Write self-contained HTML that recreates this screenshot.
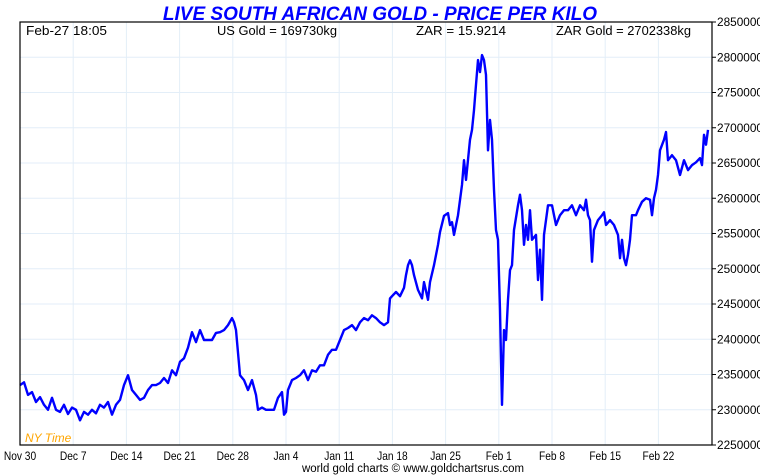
<!DOCTYPE html>
<html><head><meta charset="utf-8"><style>
body{margin:0;background:#fff;width:760px;height:475px;overflow:hidden}
svg{display:block;font-family:"Liberation Sans",sans-serif}
</style></head><body>
<svg id="chart" width="760" height="475" viewBox="0 0 760 475">
<text x="380" y="20" text-anchor="middle" font-size="19" font-weight="bold" font-style="italic" fill="#0000ff">LIVE SOUTH AFRICAN GOLD - PRICE PER KILO</text>
<g id="grid"></g>
<g id="yaxis"></g>
<g id="xaxis"></g>
<path id="line" fill="none" stroke="#0000ff" stroke-width="2.4" stroke-linejoin="round"/>
<rect x="20" y="22" width="692" height="423" fill="none" stroke="#000" stroke-width="1.2"/>
<text x="26" y="35" font-size="13" textLength="81" lengthAdjust="spacingAndGlyphs">Feb-27  18:05</text>
<text x="217" y="35" font-size="13" textLength="120" lengthAdjust="spacingAndGlyphs">US Gold = 169730kg</text>
<text x="416" y="35" font-size="13" textLength="90" lengthAdjust="spacingAndGlyphs">ZAR = 15.9214</text>
<text x="556" y="35" font-size="13" textLength="135" lengthAdjust="spacingAndGlyphs">ZAR Gold = 2702338kg</text>
<text x="25" y="442" font-size="12" font-style="italic" fill="#ffa500">NY Time</text>
<text x="413" y="472" text-anchor="middle" font-size="11.5" textLength="222" lengthAdjust="spacingAndGlyphs">world gold charts © www.goldchartsrus.com</text>
</svg>
<script>
const days=[0,0.53,1.05,1.58,2.11,2.63,3.16,3.68,4.21,4.74,5.26,5.79,6.32,6.84,7.37,7.89,8.42,8.95,9.47,10,10.53,11.05,11.58,12.11,12.63,13.16,13.68,14.21,14.74,15.26,15.79,16.32,16.84,17.37,17.89,18.42,18.95,19.47,20,20.53,21.05,21.58,22.11,22.63,23.16,23.68,24.21,24.74,25.26,25.79,26.32,26.84,27.37,27.89,28.16,28.42,28.95,29.47,30,30.53,31.05,31.32,31.84,32.37,32.89,33.42,33.95,34.47,34.74,35,35.26,35.79,36.32,36.84,37.37,37.89,38.42,38.95,39.47,40,40.53,41.05,41.58,42.11,42.63,43.16,43.68,44.21,44.74,45.26,45.79,46.32,46.84,47.37,47.89,48.42,48.68,48.95,49.47,50,50.53,50.79,51.05,51.32,51.58,51.84,52.37,52.89,53.16,53.68,53.95,54.47,55,55.26,55.79,56.32,56.58,56.84,57.11,57.63,58.16,58.42,58.68,59.21,59.47,59.74,60,60.26,60.53,60.79,61.05,61.32,61.58,61.84,62.11,62.37,62.63,62.89,63.16,63.29,63.42,63.68,63.95,64.21,64.47,64.74,65,65.53,65.79,66.05,66.32,66.58,66.84,67.11,67.37,67.89,68.16,68.42,68.68,68.95,69.47,70,70.53,71.05,71.58,72.11,72.63,73.16,73.68,74.21,74.47,74.74,75,75.26,75.53,76.05,76.58,76.84,77.11,77.63,78.16,78.68,78.95,79.21,79.47,79.74,80,80.26,80.53,81.05,81.32,81.84,82.37,82.89,83.16,83.42,83.68,83.95,84.21,84.74,85,85.26,85.79,86.32,86.84,87.37,87.89,88.42,88.95,89.47,89.74,90,90.26,90.53];
const prices=[2335,2339,2321,2325,2311,2318,2307,2300,2317,2300,2297,2307,2294,2303,2300,2285,2297,2293,2300,2295,2307,2303,2311,2293,2307,2314,2335,2349,2328,2321,2314,2317,2328,2335,2335,2338,2345,2338,2356,2349,2368,2373,2388,2410,2396,2413,2399,2399,2399,2409,2410,2413,2420,2430,2424,2413,2349,2342,2328,2342,2321,2300,2303,2300,2300,2300,2317,2325,2293,2297,2328,2342,2345,2349,2356,2342,2356,2354,2363,2363,2378,2385,2385,2399,2413,2416,2420,2413,2424,2430,2427,2434,2430,2424,2420,2424,2458,2461,2467,2461,2473,2491,2505,2512,2505,2491,2470,2458,2481,2456,2481,2505,2534,2552,2575,2579,2562,2566,2548,2576,2619,2654,2626,2683,2697,2725,2761,2796,2779,2803,2796,2775,2668,2711,2683,2612,2555,2541,2441,2371,2307,2413,2399,2456,2498,2505,2555,2590,2605,2583,2534,2562,2541,2583,2541,2548,2484,2527,2456,2548,2590,2590,2562,2576,2583,2583,2590,2576,2590,2583,2598,2576,2569,2510,2555,2569,2576,2580,2562,2569,2562,2548,2515,2541,2515,2505,2520,2541,2576,2576,2583,2595,2600,2598,2576,2600,2612,2633,2668,2683,2694,2654,2661,2654,2633,2654,2640,2647,2651,2657,2647,2690,2676,2697];
const yTicks=[2250000,2300000,2350000,2400000,2450000,2500000,2550000,2600000,2650000,2700000,2750000,2800000,2850000];
const xLabels=["Nov 30","Dec 7","Dec 14","Dec 21","Dec 28","Jan 4","Jan 11","Jan 18","Jan 25","Feb 1","Feb 8","Feb 15","Feb 22"];
const xTickDays=[0,7,14,21,28,35,42,49,56,63,70,77,84];

const L=20,R=712,T=22,B=445;
const xs=d=>L+d*7.6;
const ys=v=>B-(v-2250000)/600000*(B-T);
const NS="http://www.w3.org/2000/svg";
const grid=document.getElementById('grid'),ya=document.getElementById('yaxis'),xa=document.getElementById('xaxis');
function mk(tag,attrs,parent){const e=document.createElementNS(NS,tag);for(const k in attrs)e.setAttribute(k,attrs[k]);parent.appendChild(e);return e;}
yTicks.forEach(v=>{
  const y=ys(v);
  const g=mk('line',{x1:L,x2:R,y1:y,y2:y,stroke:'#e3eef8','stroke-width':1},grid);
  
  
  const t=mk('line',{x1:R,x2:R+4,y1:y,y2:y,stroke:'#000'},ya);
  
  
  const l=mk('text',{x:R+5,y:y+4,'font-size':12,textLength:46,lengthAdjust:'spacingAndGlyphs'},ya);
  l.textContent=v;
  
  
});
xTickDays.forEach((d,i)=>{
  const x=xs(d);
  const g=mk('line',{x1:x,x2:x,y1:T,y2:B,stroke:'#e3eef8','stroke-width':1},grid);
  
  
  const l=mk('text',{x:x,y:460,'font-size':12,'text-anchor':'middle',transform:`translate(${x},0) scale(0.85,1) translate(${-x},0)`},xa);
  l.textContent=xLabels[i];
  
  
});
document.getElementById('line').setAttribute('d',days.map((d,i)=>(i?'L':'M')+xs(d).toFixed(1)+','+ys(prices[i]*1000).toFixed(1)).join(''));
</script>
</body></html>
